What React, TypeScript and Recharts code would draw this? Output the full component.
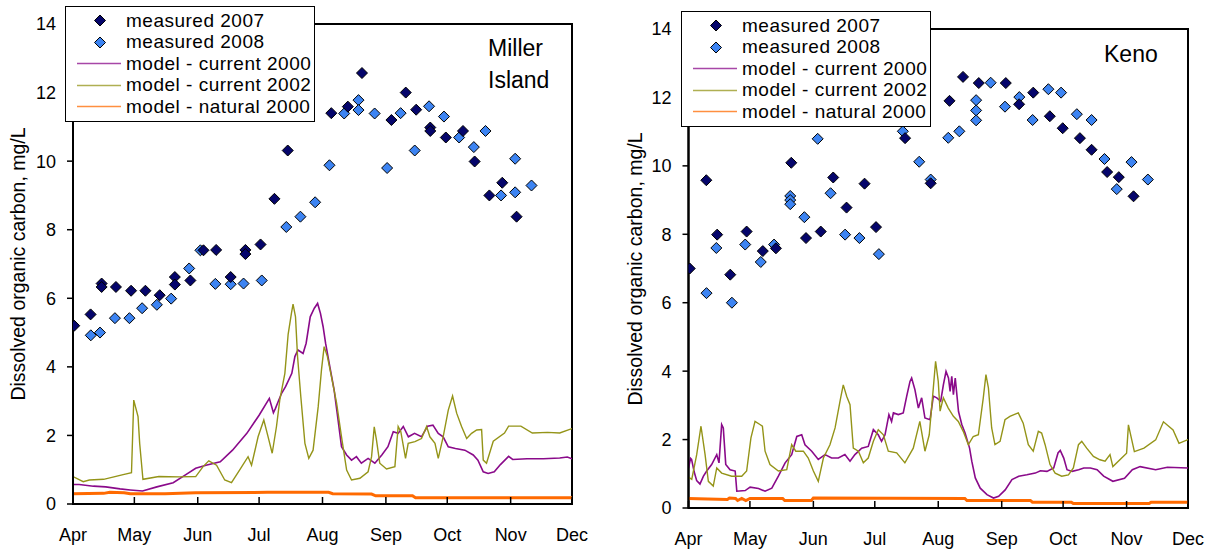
import React from "react";
import { ComposedChart, Line, Scatter, XAxis, YAxis, ReferenceArea } from "recharts";

// day 0 = 1 April; ticks fall on the first of each month
const monthTicks = [0, 30, 61, 91, 122, 153, 183, 214, 244];
const monthNames = ["Apr", "May", "Jun", "Jul", "Aug", "Sep", "Oct", "Nov", "Dec"];
const docTicks = [0, 2, 4, 6, 8, 10, 12, 14];

const seriesNames = [
  "measured 2007",
  "measured 2008",
  "model - current 2000",
  "model - current 2002",
  "model - natural 2000",
];

// ---- Miller Island: [day, DOC mg/L] ----
const millerMeasured2007 = [
  [0.6, 5.2], [8.6, 5.53], [14, 6.43], [14, 6.33], [21, 6.33], [28.4, 6.22], [35.4, 6.22],
  [42.4, 6.09], [49.8, 6.62], [49.8, 6.4], [57.4, 6.52], [63.8, 7.4], [70, 7.41], [77.1, 6.62],
  [84.3, 7.41], [84.3, 7.29], [91.7, 7.57], [98.5, 8.9], [105, 10.31], [126.3, 11.4],
  [134.4, 11.59], [141.3, 12.57], [155.7, 11.2], [162.7, 12.0], [167.8, 11.5], [174.7, 10.98],
  [174.7, 10.88], [182.3, 10.69], [190.7, 10.88], [196.4, 9.99], [203.6, 9.0], [209.9, 9.37],
  [216.9, 8.38],
];
const millerMeasured2008 = [
  [8.7, 4.92], [13.2, 5.0], [20.5, 5.42], [27.6, 5.42], [33.8, 5.71], [41, 5.81], [48, 5.99],
  [56.8, 6.87], [62.3, 7.4], [69.6, 6.42], [77.1, 6.41], [83.4, 6.43], [92.3, 6.52],
  [104.3, 8.08], [111.2, 8.38], [118.4, 8.8], [125.4, 9.88], [132.6, 11.39], [139.6, 11.78],
  [139.6, 11.49], [147.5, 11.39], [153.6, 9.8], [160.2, 11.4], [167.1, 10.31], [174.1, 11.6],
  [181.4, 11.3], [188.8, 10.69], [196, 10.41], [201.7, 10.88], [209.3, 9.0], [216.2, 10.07],
  [216.2, 9.09], [224.2, 9.29],
];
const millerCurrent2000 = [
  [0, 0.57], [3, 0.57], [10, 0.52], [16, 0.5], [23, 0.44], [28, 0.41], [34, 0.38], [41, 0.5],
  [49, 0.62], [55, 0.85], [60, 1.04], [65, 1.13], [72, 1.23], [78, 1.57], [85, 2.06], [91, 2.59],
  [96, 3.08], [98, 2.66], [99, 2.79], [100, 2.94], [102, 3.23], [104, 3.43], [107, 3.81],
  [108.5, 4.3], [110, 4.49], [112.5, 4.39], [114, 4.69], [116, 5.46], [118, 5.71], [119.6, 5.85],
  [121, 5.56], [122.3, 5.17], [123.5, 4.69], [125.6, 4.0], [127.7, 3.32], [129.4, 2.55],
  [131.3, 1.67], [133.8, 1.43], [136.2, 1.28], [138.6, 1.38], [141, 1.19], [144.3, 1.33],
  [147.6, 1.19], [151, 1.43], [154, 1.67], [156.6, 2.11], [159, 2.06], [161.5, 2.26], [164, 1.96],
  [167, 2.06], [170.4, 1.96], [173.4, 2.27], [176, 2.3], [178.6, 2.06], [181, 1.96], [183.5, 1.67],
  [187, 1.62], [191.6, 1.57], [195.7, 1.43], [198, 1.28], [200.6, 0.94], [203, 0.89], [206, 0.94],
  [209, 1.15], [213, 1.39], [215, 1.3], [222, 1.32], [230, 1.32], [238, 1.34], [241.7, 1.37],
  [244, 1.32],
];
const millerCurrent2002 = [
  [0, 0.8], [5, 0.65], [8, 0.7], [15, 0.72], [24, 0.85], [28.6, 0.91], [29.7, 3.03], [31.8, 2.55],
  [32.6, 1.77], [34.2, 0.72], [42, 0.8], [52, 0.79], [60, 0.8], [63.6, 1.09], [66.4, 1.26],
  [70.2, 1.13], [74.2, 0.7], [77.5, 0.62], [81.6, 1.0], [85.6, 1.38], [87.3, 1.13], [90.5, 1.96],
  [93.3, 2.45], [95.4, 1.96], [97.4, 1.48], [99.5, 2.26], [101.1, 3.03], [103.6, 3.81],
  [105.2, 4.95], [106.8, 5.56], [107.6, 5.83], [108.8, 5.46], [109.8, 4.3], [111.4, 3.13],
  [113.4, 1.77], [115.3, 1.33], [117.4, 1.57], [119.9, 2.84], [121.5, 3.91], [122.8, 4.59],
  [124.4, 4.3], [126.4, 3.71], [128.9, 2.94], [131.3, 1.96], [133.8, 0.99], [136.2, 0.7],
  [140.3, 0.75], [144.3, 0.94], [146, 1.38], [147.3, 2.25], [148.4, 1.86], [150, 1.19],
  [153.3, 1.02], [157.4, 1.09], [159, 2.26], [160.3, 2.11], [162.6, 1.33], [163.9, 1.77],
  [167.2, 1.82], [170.4, 1.91], [172.9, 2.26], [174.5, 1.96], [177, 1.77], [178.6, 1.33],
  [181, 1.96], [183.5, 2.74], [185.6, 3.15], [187.6, 2.65], [190, 2.26], [192.5, 1.91],
  [194.9, 2.06], [197.4, 2.16], [199.8, 2.17], [200.6, 1.28], [202.2, 1.19], [205.5, 1.83],
  [211, 2.07], [213, 2.27], [219, 2.27], [224.6, 2.07], [232, 2.09], [238, 2.07], [244, 2.2],
];
const millerNatural2000 = [
  [0, 0.3], [15, 0.31], [18, 0.34], [25, 0.33], [28, 0.3], [45, 0.3], [60, 0.33], [95, 0.34],
  [125, 0.34], [127, 0.3], [146, 0.29], [148, 0.24], [166, 0.24], [167.5, 0.18], [244, 0.18],
];

// ---- Keno ----
const kenoMeasured2007 = [
  [0.6, 7.0], [8.7, 9.58], [14, 7.99], [20.4, 6.82], [28.4, 8.08], [36.3, 7.51], [42.7, 7.59],
  [50.2, 10.09], [57.4, 7.89], [64.6, 8.08], [70.7, 9.66], [77.2, 8.78], [86, 9.48], [91.6, 8.21],
  [105.8, 10.81], [118.3, 9.49], [127.5, 11.9], [134.1, 12.6], [141.8, 12.42], [155, 12.42],
  [161.5, 11.8], [168.4, 12.14], [176.5, 11.45], [182.8, 11.1], [191.2, 10.81], [196.9, 10.47],
  [204.5, 9.82], [210.2, 9.67], [217.4, 9.11],
];
const kenoMeasured2008 = [
  [8.8, 6.28], [13.6, 7.6], [21.2, 6.0], [27.7, 7.7], [35.3, 7.19], [41.8, 7.7], [49.7, 9.12],
  [49.7, 9.0], [49.7, 8.88], [56.6, 8.5], [63.1, 10.79], [69.4, 9.2], [76.5, 7.99], [83.5, 7.89],
  [93, 7.42], [104.7, 11.01], [112.7, 10.12], [118.3, 9.6], [126.9, 10.82], [132.3, 11.01],
  [140.5, 11.92], [140.5, 11.62], [140.5, 11.33], [147.6, 12.43], [154.6, 11.73], [161.6, 12.01],
  [168.1, 11.34], [175.8, 12.24], [182, 12.14], [189.7, 11.51], [196.9, 11.34], [203.2, 10.2],
  [209.2, 9.32], [216.4, 10.11], [224.4, 9.6],
];
const kenoCurrent2000 = [
  [0, 1.17], [1, 1.45], [1.5, 1.42], [2.8, 1.05], [4, 0.8], [5.6, 0.7], [7.3, 0.93], [8.9, 1.08],
  [11.3, 1.27], [13.8, 1.56], [14.9, 1.32], [16.2, 2.44], [17, 2.34], [18.2, 1.27], [20.3, 1.12],
  [22.8, 1.08], [23.6, 0.49], [27.7, 0.51], [30.1, 0.61], [34.2, 0.57], [37.4, 0.49], [40.7, 0.58],
  [43.9, 0.93], [47.2, 1.32], [50.4, 1.56], [52.9, 2.09], [55.3, 2.14], [56.9, 1.85], [60.2, 1.66],
  [63.4, 1.42], [66.7, 1.56], [69.9, 1.46], [73.2, 1.46], [76.4, 1.56], [78.9, 1.37], [81.3, 1.56],
  [84.6, 1.75], [87.8, 1.8], [90.3, 2.29], [92.7, 2.14], [94.3, 1.95], [96, 2.14], [97.9, 2.73],
  [99.2, 2.53], [100.1, 2.78], [102.5, 2.73], [104.9, 2.78], [106.6, 3.27], [108.2, 3.7],
  [109, 3.8], [110.6, 3.46], [112.3, 2.92], [113.9, 3.22], [115.5, 2.63], [118, 2.58],
  [119.6, 3.27], [121.3, 3.22], [123.2, 3.12], [124.5, 3.6], [125.8, 3.99], [127, 3.8],
  [127.8, 3.41], [128.6, 3.85], [129.4, 3.31], [130.3, 3.8], [131.9, 2.82], [133.5, 2.44],
  [135.1, 2.19], [137.3, 1.75], [138.4, 1.36], [140.1, 0.88], [142.5, 0.58], [145.8, 0.39],
  [149, 0.29], [151.5, 0.34], [154.7, 0.53], [158, 0.83], [161.3, 0.93], [165.3, 0.97],
  [169.4, 1.02], [171.9, 1.09], [175.1, 1.07], [178.4, 1.17], [180.5, 1.61], [181.6, 1.68],
  [183.3, 1.46], [184.9, 1.12], [187.4, 1.07], [190.6, 1.12], [193.1, 1.17], [196.3, 1.17],
  [199.6, 1.12], [202.8, 0.93], [207.3, 0.78], [213, 0.87], [216.8, 1.12], [220.6, 1.21],
  [228.2, 1.12], [233.9, 1.19], [244, 1.17],
];
const kenoCurrent2002 = [
  [0, 0.9], [1.6, 0.84], [4, 1.56], [6.1, 2.39], [8.1, 1.56], [9.7, 0.78], [12.1, 0.64],
  [13.8, 1.17], [16.2, 1.02], [21.1, 0.93], [26, 0.93], [28.4, 1.08], [30.5, 2.05], [32.5, 2.53],
  [34.9, 2.44], [36.1, 2.39], [37.4, 1.66], [39.8, 1.27], [43.9, 1.08], [48, 1.12], [50.4, 1.85],
  [52.4, 1.66], [56.1, 1.66], [58.5, 1.46], [61, 1.08], [63.4, 0.78], [65.9, 1.46], [69.1, 1.85],
  [71.6, 2.34], [74.3, 3.21], [75.6, 3.6], [77.3, 3.26], [78.9, 3.02], [80.5, 1.75], [83, 1.66],
  [85.4, 1.32], [87.8, 1.46], [90.3, 1.95], [92.7, 2.29], [95.2, 2.14], [97.6, 1.66],
  [101.7, 1.61], [105.7, 1.32], [109.8, 1.75], [113, 2.53], [115.5, 1.66], [117.6, 2.14],
  [119.6, 3.51], [120.7, 4.29], [122, 3.7], [122.9, 2.83], [124.5, 3.22], [126.9, 2.92],
  [129.4, 2.68], [131.8, 2.53], [134.2, 2.24], [136.7, 1.85], [139.1, 2.09], [141.6, 2.14],
  [144, 3.22], [145.3, 3.9], [146.5, 3.51], [148.1, 2.34], [149.7, 1.85], [152.2, 1.95],
  [154.6, 2.58], [157, 2.68], [159, 2.73], [161.1, 2.78], [163.5, 2.48], [166, 1.85],
  [168.4, 1.66], [170.9, 2.24], [172.5, 2.19], [174.2, 1.85], [176.6, 1.27], [179.1, 1.02],
  [182.3, 0.93], [185.6, 0.97], [188, 1.17], [190.5, 1.85], [192.1, 1.95], [194.5, 1.75],
  [197.8, 1.51], [201, 1.41], [203.5, 1.37], [205.9, 1.56], [207.3, 1.21], [214, 1.6],
  [214.9, 2.43], [217.8, 1.65], [222.5, 1.75], [228.2, 1.99], [232, 2.52], [236.7, 2.28],
  [239.6, 1.89], [244, 2.0],
];
const kenoNatural2000 = [
  [0, 0.28], [19, 0.25], [20, 0.29], [23, 0.28], [24, 0.22], [26, 0.28], [28, 0.22], [30, 0.28],
  [46, 0.28], [47, 0.22], [60, 0.22], [61, 0.29], [135, 0.28], [136, 0.22], [167, 0.22],
  [168, 0.17], [187, 0.17], [188, 0.13], [225, 0.13], [226, 0.17], [244, 0.17],
];

const FONT = '"Liberation Sans", Arial, sans-serif';
const DARK = "#05056b";
const LIGHT = "#3d84f2";
const PURPLE = "#8a0a8a";
const OLIVE = "#949418";
const ORANGE = "#ff6a00";

const toPoints = (rows: number[][]) => rows.map(([day, v]) => ({ day, v }));

const diamond = (fill: string, r = 5.5) => (props: any) => {
  const { cx, cy } = props;
  if (cx == null || cy == null) return null;
  return (
    <path
      d={`M${cx},${cy - r}L${cx + r},${cy}L${cx},${cy + r}L${cx - r},${cy}Z`}
      fill={fill}
      stroke="#000"
      strokeWidth={1}
    />
  );
};

function LegendBox({ left, top }: { left: number; top: number }) {
  const swatches = [
    { kind: "dot", color: DARK },
    { kind: "dot", color: LIGHT },
    { kind: "line", color: PURPLE },
    { kind: "line", color: OLIVE },
    { kind: "line", color: ORANGE },
  ];
  return (
    <div
      style={{
        position: "absolute",
        left,
        top,
        width: 250,
        height: 116,
        boxSizing: "border-box",
        border: "1.5px solid #000",
        background: "#fff",
        paddingTop: 3,
        fontFamily: FONT,
        fontSize: 19,
        letterSpacing: 0.5,
        color: "#000",
      }}
    >
      {seriesNames.map((name, i) => (
        <div key={name} style={{ display: "flex", alignItems: "center", height: 21.5 }}>
          <svg width={60} height={21} style={{ flex: "none" }}>
            {swatches[i].kind === "dot" ? (
              <path d="M34,5L39.5,10.5L34,16L28.5,10.5Z" fill={swatches[i].color} stroke="#000" />
            ) : (
              <line x1={11} x2={55} y1={10.5} y2={10.5} stroke={swatches[i].color} strokeWidth={1.5} strokeOpacity={0.75} />
            )}
          </svg>
          <span style={{ whiteSpace: "nowrap" }}>{name}</span>
        </div>
      ))}
    </div>
  );
}

type PanelProps = {
  left: number;
  top: number;
  bottom: number;
  yWidth: number;
  right: number;
  site: string[];
  siteLeft: number;
  siteTop: number;
  legendLeft: number;
  legendTop: number;
  yLabelX: number;
  yLabelY: number;
  m2007: number[][];
  m2008: number[][];
  cur2000: number[][];
  cur2002: number[][];
  nat2000: number[][];
};

function Panel(p: PanelProps) {
  const tick = { fill: "#000", fontSize: 18, fontFamily: FONT };
  return (
    <>
      <div style={{ position: "absolute", left: p.left, top: 0 }}>
        <ComposedChart
          width={610}
          height={552}
          margin={{ top: p.top, right: p.right, bottom: p.bottom, left: 0 }}
        >
          <XAxis
            type="number"
            dataKey="day"
            domain={[0, 244]}
            ticks={monthTicks}
            interval={0}
            tickFormatter={(d: number) => monthNames[monthTicks.indexOf(d)]}
            tickSize={-7}
            tickMargin={31}
            height={40}
            axisLine={{ stroke: "#000", strokeWidth: 2 }}
            tickLine={{ stroke: "#000", strokeWidth: 1.5 }}
            tick={tick}
            allowDataOverflow
          />
          <YAxis
            type="number"
            dataKey="v"
            domain={[0, 14]}
            ticks={docTicks}
            interval={0}
            width={p.yWidth}
            tickSize={6}
            tickMargin={11}
            axisLine={{ stroke: "#000", strokeWidth: 2 }}
            tickLine={{ stroke: "#000", strokeWidth: 1.5 }}
            tick={tick}
            allowDataOverflow
          />
          <ReferenceArea x1={0} x2={244} y1={0} y2={14} fill="none" stroke="#000" strokeWidth={2} ifOverflow="visible" />
          <Line data={toPoints(p.nat2000)} dataKey="v" stroke={ORANGE} strokeWidth={3} dot={false} isAnimationActive={false} />
          <Line data={toPoints(p.cur2000)} dataKey="v" stroke={PURPLE} strokeWidth={1.6} dot={false} isAnimationActive={false} />
          <Line data={toPoints(p.cur2002)} dataKey="v" stroke={OLIVE} strokeWidth={1.4} dot={false} isAnimationActive={false} />
          <Scatter data={toPoints(p.m2008)} dataKey="v" shape={diamond(LIGHT)} isAnimationActive={false} />
          <Scatter data={toPoints(p.m2007)} dataKey="v" shape={diamond(DARK)} isAnimationActive={false} />
        </ComposedChart>
      </div>
      <LegendBox left={p.legendLeft} top={p.legendTop} />
      <div
        style={{
          position: "absolute",
          left: p.siteLeft,
          top: p.siteTop,
          fontFamily: FONT,
          fontSize: 23,
          lineHeight: "32px",
          color: "#000",
        }}
      >
        {p.site.map((s) => (
          <div key={s}>{s}</div>
        ))}
      </div>
      <div
        style={{
          position: "absolute",
          left: p.yLabelX,
          top: p.yLabelY,
          transform: "translate(-50%, -50%) rotate(-90deg)",
          whiteSpace: "nowrap",
          fontFamily: FONT,
          fontSize: 19.5,
          color: "#000",
        }}
      >
        Dissolved organic carbon, mg/L
      </div>
    </>
  );
}

export default function App() {
  return (
    <div style={{ position: "absolute", left: 0, top: 0, width: 1222, height: 552, background: "#fff", overflow: "hidden" }}>
      <Panel
        left={0}
        top={24}
        bottom={8}
        yWidth={73}
        right={38}
        site={["Miller", "Island"]}
        siteLeft={488}
        siteTop={32}
        legendLeft={65}
        legendTop={6}
        yLabelX={18}
        yLabelY={264}
        m2007={millerMeasured2007}
        m2008={millerMeasured2008}
        cur2000={millerCurrent2000}
        cur2002={millerCurrent2002}
        nat2000={millerNatural2000}
      />
      <Panel
        left={612}
        top={29}
        bottom={4}
        yWidth={76.5}
        right={34}
        site={["Keno"]}
        siteLeft={1104}
        siteTop={38}
        legendLeft={681}
        legendTop={11}
        yLabelX={634.5}
        yLabelY={268.5}
        m2007={kenoMeasured2007}
        m2008={kenoMeasured2008}
        cur2000={kenoCurrent2000}
        cur2002={kenoCurrent2002}
        nat2000={kenoNatural2000}
      />
    </div>
  );
}
